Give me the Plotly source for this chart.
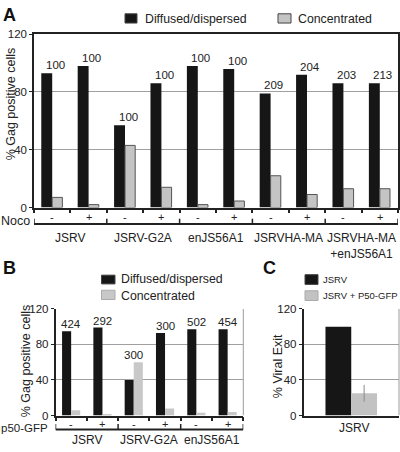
import plotly.graph_objects as go

# ---------------- data ----------------
a_labels_top = ["100", "100", "100", "100", "100", "100", "209", "204", "203", "213"]
a_noco = ["-", "+", "-", "+", "-", "+", "-", "+", "-", "+"]
a_groups = ["JSRV", "JSRV-G2A", "enJS56A1", "JSRVHA-MA", "JSRVHA-MA<br>+enJS56A1"]
a_diffused = [93, 98, 57, 86, 98, 96, 79, 92, 86, 86]
a_concentrated = [7, 2, 43, 14, 2, 4.5, 22, 9, 13, 13]

b_labels_top = ["424", "292", "300", "300", "502", "454"]
b_p50 = ["-", "+", "-", "+", "-", "+"]
b_groups = ["JSRV", "JSRV-G2A", "enJS56A1"]
b_diffused = [95, 99, 40, 93, 97, 97]
b_concentrated = [6, 1, 60, 8, 3, 4]

c_categories = ["JSRV"]
c_jsrv = [100]
c_jsrv_p50 = [25]
c_jsrv_p50_err = [9.5]

yticks = [0, 40, 80, 120]

# ---------------- helpers ----------------
W, H = 400, 452
FONT = "Liberation Sans, Arial, sans-serif"
TXT = "#222222"
BLACK = "#161616"


def px(x):
    return x / W


def py(y):
    return 1 - y / H


fig = go.Figure()
ann = []
shp = []

# ---------------- panel A ----------------
xa = list(range(len(a_diffused)))
fig.add_trace(go.Bar(x=xa, y=a_diffused, width=0.3, offset=-0.3,
                     marker=dict(color=BLACK, line=dict(width=0)),
                     xaxis="x", yaxis="y", showlegend=False))
fig.add_trace(go.Bar(x=xa, y=a_concentrated, width=0.28, offset=0.0,
                     marker=dict(color="#c4c4c4", line=dict(color="#555555", width=1)),
                     xaxis="x", yaxis="y", showlegend=False))
for i, t in enumerate(a_labels_top):
    ann.append(dict(x=i, y=max(a_diffused[i], a_concentrated[i]), xref="x", yref="y",
                    text=t, showarrow=False, yanchor="bottom", xshift=3, yshift=0,
                    font=dict(size=11.5, color=TXT)))
for i, t in enumerate(a_noco):
    ann.append(dict(x=i, y=py(216.5), xref="x", yref="paper", text=t, showarrow=False,
                    font=dict(size=11, color=TXT), yanchor="middle"))
ann.append(dict(x=px(32), y=py(221), xref="paper", yref="paper", text="Noco",
                showarrow=False, xanchor="right", yanchor="middle",
                font=dict(size=12.5, color=TXT)))
for g, t in enumerate(a_groups):
    ann.append(dict(x=2 * g + 0.5, y=py(229), xref="x", yref="paper", text=t,
                    showarrow=False, yanchor="top", font=dict(size=12, color=TXT)))
# bracket under A
shp.append(dict(type="line", xref="x", yref="paper", x0=-0.5, x1=9.5,
                y0=py(224), y1=py(224), line=dict(color=TXT, width=2)))
for g in range(6):
    xb = -0.5 + 2 * g
    shp.append(dict(type="line", xref="x", yref="paper", x0=xb, x1=xb,
                    y0=py(224), y1=py(218.5), line=dict(color=TXT, width=1.5)))

# ---------------- panel B ----------------
xb_ = list(range(len(b_diffused)))
fig.add_trace(go.Bar(x=xb_, y=b_diffused, width=0.29, offset=-0.29,
                     marker=dict(color=BLACK, line=dict(width=0)),
                     xaxis="x2", yaxis="y2", showlegend=False))
fig.add_trace(go.Bar(x=xb_, y=b_concentrated, width=0.29, offset=0.0,
                     marker=dict(color="#c8c8c8", line=dict(width=0)),
                     xaxis="x2", yaxis="y2", showlegend=False))
for i, t in enumerate(b_labels_top):
    ann.append(dict(x=i, y=max(b_diffused[i], b_concentrated[i]), xref="x2", yref="y2",
                    text=t, showarrow=False, yanchor="bottom", yshift=-1,
                    font=dict(size=11.5, color=TXT)))
for i, t in enumerate(b_p50):
    ann.append(dict(x=i, y=py(429.5), xref="x2", yref="paper", text=t, showarrow=False,
                    font=dict(size=11, color=TXT), yanchor="middle"))
ann.append(dict(x=0, y=py(434), xref="paper", yref="paper", text="p50-GFP",
                showarrow=False, xanchor="left", yanchor="middle", borderpad=0,
                font=dict(size=11.5, color=TXT)))
for g, t in enumerate(b_groups):
    ann.append(dict(x=2 * g + 0.5, y=py(446), xref="x2", yref="paper", text=t,
                    showarrow=False, yanchor="middle", font=dict(size=12, color=TXT)))
shp.append(dict(type="line", xref="x2", yref="paper", x0=-0.5, x1=5.5,
                y0=py(435), y1=py(435), line=dict(color=TXT, width=2)))
for g in range(4):
    xb = -0.5 + 2 * g
    shp.append(dict(type="line", xref="x2", yref="paper", x0=xb, x1=xb,
                    y0=py(435), y1=py(429.5), line=dict(color=TXT, width=1.5)))

# ---------------- panel C ----------------
fig.add_trace(go.Bar(x=[0], y=c_jsrv, width=0.27, offset=-0.27,
                     marker=dict(color=BLACK, line=dict(width=0)),
                     xaxis="x3", yaxis="y3", showlegend=False))
fig.add_trace(go.Bar(x=[0], y=c_jsrv_p50, width=0.27, offset=0.0,
                     marker=dict(color="#c2c2c2", line=dict(width=0)),
                     error_y=dict(type="data", array=c_jsrv_p50_err, color="#8a8a8a",
                                  thickness=1, width=0),
                     xaxis="x3", yaxis="y3", showlegend=False))
ann.append(dict(x=0, y=py(434), xref="x3", yref="paper", text=c_categories[0],
                showarrow=False, yanchor="middle", xshift=3, font=dict(size=12, color=TXT)))

# right borders for B and C
for xr, yr, col in [("x2 domain", "y2", "#9a9a9a"), ("x3 domain", "y3", "#9a9a9a")]:
    shp.append(dict(type="line", xref=xr, yref=yr, x0=1, x1=1, y0=0, y1=120,
                    line=dict(color=col, width=1)))

# ---------------- legends ----------------
def legend_item(x0, y0, x1, y1, color, text, tx, ty, size, outline="#444444"):
    shp.append(dict(type="rect", xref="paper", yref="paper", x0=px(x0), x1=px(x1),
                    y0=py(y1), y1=py(y0), fillcolor=color,
                    line=dict(color=outline, width=1)))
    ann.append(dict(x=px(tx), y=py(ty), xref="paper", yref="paper", text=text,
                    showarrow=False, xanchor="left", yanchor="middle",
                    font=dict(size=size, color=TXT)))


legend_item(125, 8, 137, 17.5, BLACK, "Diffused/dispersed", 143, 13, 12.3)
legend_item(278, 8, 291, 17.5, "#c4c4c4", "Concentrated", 296, 13, 12.3)
legend_item(101.5, 276.5, 115, 285.5, BLACK, "Diffused/dispersed", 119, 280.7, 12.3)
legend_item(101.5, 292, 115, 301.5, "#c8c8c8", "Concentrated", 119, 297.5, 12.3, "#aaaaaa")
legend_item(305, 276, 318, 286, BLACK, "JSRV", 321, 281, 9.5)
legend_item(305, 292.5, 318, 302.5, "#c2c2c2", "JSRV + P50-GFP", 321, 297.7, 9.5, "#aaaaaa")

# ---------------- panel letters & y titles ----------------
for letter, lx, ly in [("A", 1, 9), ("B", 1, 269), ("C", 261, 269)]:
    ann.append(dict(x=px(lx), y=py(ly), xref="paper", yref="paper", text="<b>%s</b>" % letter,
                    showarrow=False, xanchor="left", yanchor="middle",
                    font=dict(size=18, color="#111111")))
for t, tx, ty in [("% Gag positive cells", 11, 101), ("% Gag positive cells", 26, 365),
                  ("% Viral Exit", 278, 370)]:
    ann.append(dict(x=px(tx), y=py(ty), xref="paper", yref="paper", text=t, textangle=-90,
                    showarrow=False, xanchor="center", yanchor="middle",
                    font=dict(size=12.5, color=TXT)))

# ---------------- axes ----------------
yax_common = dict(range=[0, 120], tickvals=yticks, ticks="outside", ticklen=3,
                  tickcolor=TXT, showgrid=True, gridcolor="#a0a0a0", gridwidth=1,
                  showline=True, linecolor=TXT, linewidth=1.5, zeroline=False,
                  tickfont=dict(size=11.5, color=TXT), fixedrange=True)

fig.update_layout(
    width=W, height=H, margin=dict(l=0, r=0, t=0, b=0),
    paper_bgcolor="white", plot_bgcolor="white",
    font=dict(family=FONT, color=TXT),
    xaxis=dict(domain=[px(34), px(398)], range=[-0.5, 9.5],
               tickvals=[i - 0.5 for i in range(11)], ticks="outside", ticklen=4,
               tickcolor=TXT, tickwidth=1.5, showticklabels=False, showgrid=False,
               showline=True, linecolor=TXT, linewidth=1.5, mirror=True, zeroline=False),
    yaxis=dict(domain=[py(207), py(29)], mirror=True, **yax_common),
    xaxis2=dict(domain=[px(55.5), px(243.3)], range=[-0.5, 5.5],
                tickvals=[i - 0.5 for i in range(7)], ticks="outside", ticklen=4,
                tickcolor=TXT, tickwidth=1.5, showticklabels=False, showgrid=False,
                showline=True, linecolor=TXT, linewidth=1.5, zeroline=False,
                anchor="y2"),
    yaxis2=dict(domain=[py(420.7), py(311.2)], anchor="x2", **yax_common),
    xaxis3=dict(domain=[px(303.5), px(399)], range=[-0.5, 0.5],
                showticklabels=False, ticks="", showgrid=False,
                showline=True, linecolor=TXT, linewidth=1.5, zeroline=False,
                anchor="y3"),
    yaxis3=dict(domain=[py(420.7), py(311.2)], anchor="x3", **yax_common),
    annotations=ann, shapes=shp,
)

fig.write_html(
    "out.html",
    config={"displayModeBar": False},
    post_script="document.body.style.margin='0';document.body.style.padding='0';"
                "document.body.style.overflow='hidden';",
)
